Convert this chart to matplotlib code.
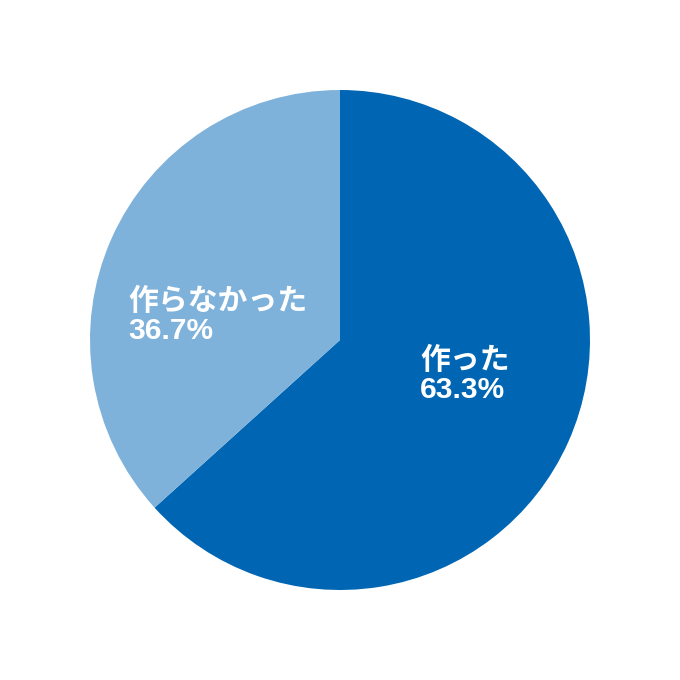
import matplotlib
matplotlib.use("Agg")
import matplotlib.pyplot as plt

labels = ["作った", "作らなかった"]
values = [63.3, 36.7]
colors = ["#0066B3", "#7FB2DA"]

fig = plt.figure(figsize=(6.8, 6.8), dpi=100)
ax = fig.add_axes([0, 0, 1, 1])
wedges, _ = ax.pie(values, colors=colors, startangle=90, counterclock=False,
                   radius=1.0, wedgeprops=dict(linewidth=0))
ax.set_xlim(-1.36, 1.36)
ax.set_ylim(-1.36, 1.36)
ax.set_aspect("equal")
ax.axis("off")

fam = ["Liberation Sans", "Noto Sans CJK JP", "DejaVu Sans"]
pos = [(0.32, -0.14), (-0.848, 0.096)]
for (x, y), lab, v in zip(pos, labels, values):
    ax.text(x, y, f"{lab}\n{v:.1f}%", color="white", fontsize=21.5, fontweight="bold",
            family=fam, ha="left", va="center", linespacing=1.05)

fig.savefig("out.png", dpi=100, facecolor="white")
